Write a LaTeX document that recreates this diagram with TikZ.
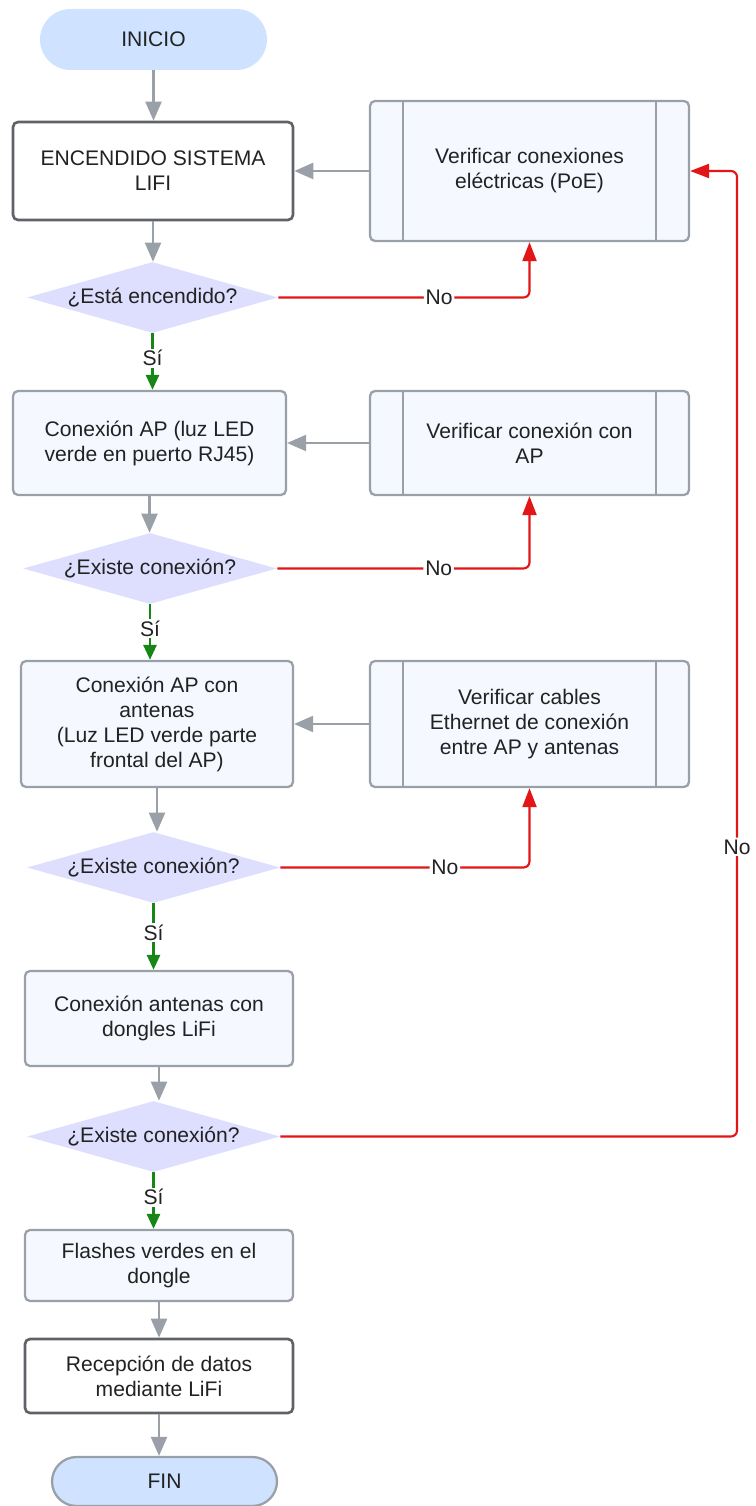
\documentclass[tikz,border=0pt]{standalone}
\usepackage{fontspec}
\setmainfont{Liberation Sans}
\usepackage{tikz}
\usetikzlibrary{arrows.meta,shapes.geometric,shapes.misc}
\definecolor{flowBlue}{RGB}{207,226,255}
\definecolor{flowBlueLight}{RGB}{245,249,255}
\definecolor{fcgray}{RGB}{154,160,168}
\definecolor{fcgrayDark}{RGB}{95,99,104}
\definecolor{fclav}{RGB}{222,222,255}
\definecolor{fcred}{RGB}{226,22,22}
\definecolor{fcgreen}{RGB}{22,135,22}
\definecolor{fctext}{RGB}{34,34,34}

\begin{document}
\begin{tikzpicture}[x=0.02cm,y=-0.02cm,
    every node/.style={font=\fontsize{12}{14.2}\selectfont, text=fctext, align=center},
    terminal/.style={rounded rectangle, fill=flowBlue, minimum width=4.54cm, minimum height=1.22cm, inner sep=0pt},
    stepbox/.style={draw=fcgray, line width=1.3pt, rounded corners=0.1cm, fill=flowBlueLight, inner sep=0pt},
    darkbox/.style={stepbox, draw=fcgrayDark, fill=white, line width=1.5pt},
    verifbox/.style={stepbox, minimum width=6.38cm,
        path picture={\draw[fcgray, line width=1.3pt]
            ([xshift=0.66cm]path picture bounding box.north west) -- ([xshift=0.66cm]path picture bounding box.south west)
            ([xshift=-0.66cm]path picture bounding box.north east) -- ([xshift=-0.66cm]path picture bounding box.south east);}},
    decision/.style={diamond, fill=fclav, aspect=3.5, inner sep=0pt, minimum width=5.06cm, minimum height=1.42cm},
    flow/.style={draw=fcgray, line width=1.3pt, -{Triangle[length=0.38cm,width=0.32cm]}},
    nobranch/.style={draw=fcred, line width=1.2pt, rounded corners=0.12cm, -{Triangle[length=0.38cm,width=0.28cm]}},
    yesbranch/.style={draw=fcgreen, line width=1.6pt, -{Triangle[length=0.3cm,width=0.26cm]}},
    lbl/.style={fill=white, inner sep=1pt}
]
    \useasboundingbox (0,0) rectangle (755,1506);

    \node[terminal] (ini) at (153.5,39.5) {INICIO};
    \node[darkbox, minimum width=5.6cm, minimum height=1.96cm] (enc) at (153,171) {ENCENDIDO SISTEMA\\LIFI};
    \node[verifbox, minimum height=2.8cm] (vpoe) at (529.5,171) {Verificar conexiones\\eléctricas (PoE)};
    \node[decision, minimum width=5.02cm] (qenc) at (152.5,297.5) {¿Está encendido?};

    \node[stepbox, minimum width=5.46cm, minimum height=2.08cm] (ap) at (149.5,443) {Conexión AP (luz LED\\verde en puerto RJ45)};
    \node[verifbox, minimum height=2.08cm] (vap) at (529.5,443) {Verificar conexión con\\AP};
    \node[decision, minimum width=5.08cm] (qap) at (150,568.5) {¿Existe conexión?};

    \node[stepbox, minimum width=5.44cm, minimum height=2.52cm] (ant) at (157,724) {Conexión AP con\\antenas\\(Luz LED verde parte\\frontal del AP)};
    \node[verifbox, minimum height=2.52cm] (vant) at (529.5,724) {Verificar cables\\Ethernet de conexión\\entre AP y antenas};
    \node[decision] (qant) at (153.5,867.5) {¿Existe conexión?};

    \node[stepbox, minimum width=5.36cm, minimum height=1.9cm] (dng) at (159,1018.5) {Conexión antenas con\\dongles LiFi};
    \node[decision] (qdng) at (153.5,1136.5) {¿Existe conexión?};

    \node[stepbox, minimum width=5.36cm, minimum height=1.42cm] (fls) at (159,1265.5) {Flashes verdes en el\\dongle};
    \node[darkbox, minimum width=5.36cm, minimum height=1.48cm] (rec) at (159,1376) {Recepción de datos\\mediante LiFi};
    \node[terminal, draw=fcgray, line width=1.3pt, minimum width=4.5cm, minimum height=0.98cm] (fin) at (164.5,1481.5) {FIN};

    \draw[flow] (ini.south) -- (ini.south |- enc.north);
    \draw[flow] (enc.south) -- (enc.south |- qenc.north);
    \draw[flow] (vpoe.west) -- (enc.east);
    \draw[nobranch] (qenc.east) -| node[lbl, pos=0.32] {No} (vpoe.south);
    \draw[yesbranch] (qenc.south) -- node[lbl, pos=0.44] {Sí} (qenc.south |- ap.north);

    \draw[flow] (ap.south) -- (ap.south |- qap.north);
    \draw[flow] (vap.west) -- (ap.east);
    \draw[nobranch] (qap.east) -| node[lbl, pos=0.32] {No} (vap.south);
    \draw[yesbranch] (qap.south) -- node[lbl, pos=0.44] {Sí} (qap.south |- ant.north);

    \draw[flow] (ant.south) -- (ant.south |- qant.north);
    \draw[flow] (vant.west) -- (ant.east);
    \draw[nobranch] (qant.east) -| node[lbl, pos=0.33] {No} (vant.south);
    \draw[yesbranch] (qant.south) -- node[lbl, pos=0.44] {Sí} (qant.south |- dng.north);

    \draw[flow] (dng.south) -- (dng.south |- qdng.north);
    \coordinate (back) at (737,1136.5);
    \draw[nobranch] (qdng.east) -- (back) -- node[lbl, pos=0.3] {No} (back |- vpoe.east) -- (vpoe.east);
    \draw[yesbranch] (qdng.south) -- node[lbl, pos=0.44] {Sí} (qdng.south |- fls.north);

    \draw[flow] (fls.south) -- (fls.south |- rec.north);
    \draw[flow] (rec.south) -- (rec.south |- fin.north);
\end{tikzpicture}
\end{document}
